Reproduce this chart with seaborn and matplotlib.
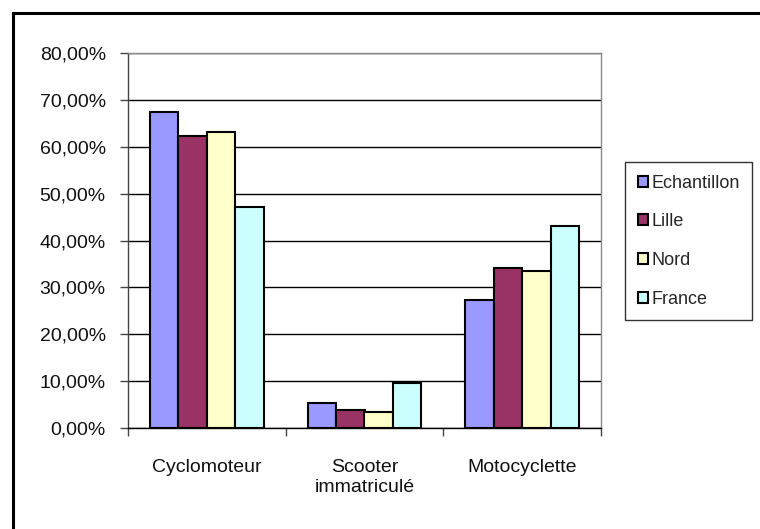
import matplotlib
matplotlib.use("Agg")
import matplotlib.pyplot as plt
import seaborn as sns
import pandas as pd
from matplotlib.patches import Rectangle, Patch
from matplotlib.ticker import FuncFormatter

categories = ["Cyclomoteur", "Scooter\nimmatriculé", "Motocyclette"]
series = ["Echantillon", "Lille", "Nord", "France"]
echantillon = [67.4, 5.3, 27.3]
lille = [62.3, 3.8, 34.1]
nord = [63.1, 3.4, 33.5]
france = [47.1, 9.6, 43.1]
colors = ["#9999FF", "#993366", "#FFFFCC", "#CCFFFF"]
yticks = [0, 10, 20, 30, 40, 50, 60, 70, 80]

rows = []
for name, vals in zip(series, [echantillon, lille, nord, france]):
    for c, v in zip(categories, vals):
        rows.append({"cat": c, "serie": name, "val": v})
df = pd.DataFrame(rows)

sns.set_style("white")
plt.rcParams["font.family"] = ["Liberation Sans", "DejaVu Sans"]

fig = plt.figure(figsize=(7.6, 5.29), dpi=100)
ax = fig.add_axes([128/760, 101/529, 473/760, 375/529])

sns.barplot(data=df, x="cat", y="val", hue="serie", order=categories,
            hue_order=series, palette=colors, width=0.72, saturation=1,
            edgecolor="black", linewidth=1.5, legend=False, ax=ax, zorder=3)

ax.set_ylim(0, 80)
ax.set_xlim(-0.5, 2.5)
ax.set_yticks(yticks)
ax.yaxis.set_major_formatter(FuncFormatter(lambda v, p: f"{v:.2f}%".replace(".", ",")))
ax.grid(axis="y", color="black", linewidth=1, zorder=0)
ax.set_xlabel("")
ax.set_ylabel("")

ax.spines["left"].set_color("#444444")
ax.spines["bottom"].set_color("black")
ax.spines["right"].set_color("#888888")
ax.spines["top"].set_color("#888888")
for sp in ax.spines.values():
    sp.set_linewidth(1)

ax.tick_params(axis="y", length=6, width=1, color="#444444", labelsize=14, pad=10,
               left=True, labelcolor="#111111")
ax.tick_params(axis="x", length=0, labelsize=14, pad=22, bottom=False, labelcolor="#111111")
ax.set_xticks([-0.5, 0.5, 1.5, 2.5], minor=True)
ax.tick_params(axis="x", which="minor", length=6, width=1, color="#444444", bottom=True)
for lbl in ax.get_xticklabels():
    lbl.set_linespacing(1.3)

handles = [Patch(facecolor=c, edgecolor="black", linewidth=1.5) for c in colors]
leg = fig.legend(handles, series, loc="upper left",
                 bbox_to_anchor=(625/760, 1 - 162/529), bbox_transform=fig.transFigure,
                 frameon=True, fancybox=False, edgecolor="black", fontsize=13,
                 handlelength=0.55, handleheight=0.55, handletextpad=0.2,
                 labelspacing=1.2, borderpad=0.7, borderaxespad=0)
leg.get_frame().set_linewidth(1)

fig.patches.append(Rectangle((13/760, -0.1), 1.2, 1 - 13/529 + 0.1,
                             transform=fig.transFigure, fill=False,
                             edgecolor="black", linewidth=2.2, zorder=10))

fig.savefig("out.png", dpi=100)
